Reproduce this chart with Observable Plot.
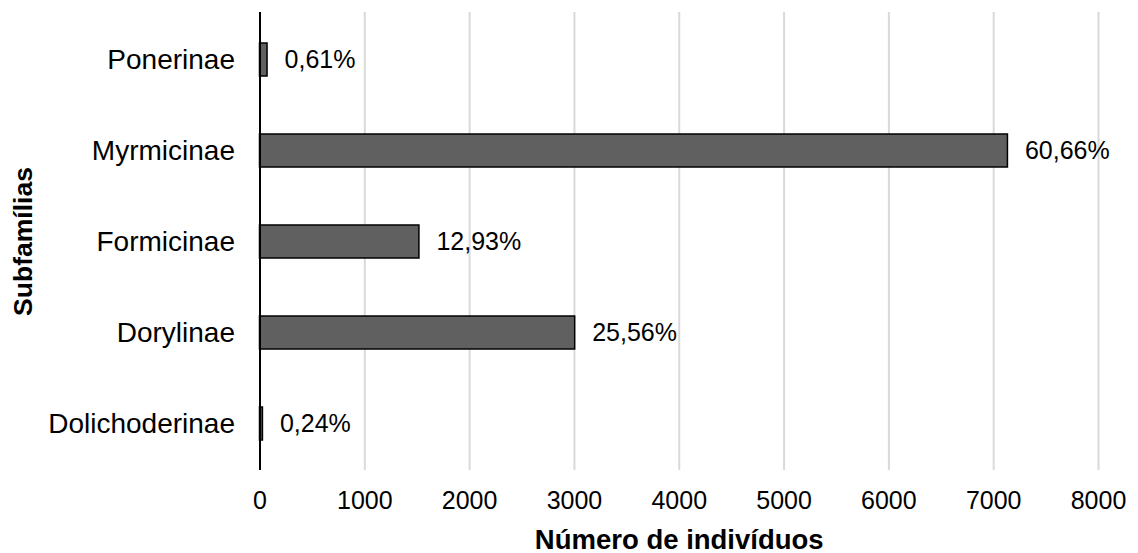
<!DOCTYPE html>
<html>
<head>
<meta charset="utf-8">
<script src="https://cdn.jsdelivr.net/npm/d3@7"></script>
<script src="https://cdn.jsdelivr.net/npm/@observablehq/plot@0.6"></script>
<style>
  html, body { margin: 0; padding: 0; background: #fff; }
</style>
</head>
<body>
<div id="chart"></div>
<script>
const subfamilies = ["Ponerinae", "Myrmicinae", "Formicinae", "Dorylinae", "Dolichoderinae"];
const counts = [72, 7136, 1521, 3007, 28];
const percentLabels = ["0,61%", "60,66%", "12,93%", "25,56%", "0,24%"];
const xTicks = [0, 1000, 2000, 3000, 4000, 5000, 6000, 7000, 8000];
const xTitle = "Número de indivíduos";
const yTitle = "Subfamílias";

const data = subfamilies.map((s, i) => ({s, n: counts[i], p: percentLabels[i]}));

const chart = Plot.plot({
  width: 1138,
  height: 553,
  marginLeft: 259.5,
  marginRight: 40,
  marginTop: 12,
  marginBottom: 83,
  x: {domain: [0, 8000]},
  y: {domain: subfamilies, paddingInner: 0.64, paddingOuter: 0.32},
  style: {fontFamily: "'Liberation Sans', Arial, Helvetica, sans-serif", background: "white", color: "#000"},
  marks: [
    Plot.gridX(xTicks.filter(d => d > 0), {stroke: "#d9d9d9", strokeOpacity: 1, strokeWidth: 2}),
    Plot.barX(data, {x: "n", y: "s", fill: "#606060", stroke: "#000", strokeWidth: 1.5}),
    Plot.ruleX([0], {stroke: "#000", strokeWidth: 2}),
    Plot.text(data, {x: "n", y: "s", text: "p", textAnchor: "start", dx: 17, fontSize: 25, fill: "#000"}),
    Plot.axisX(xTicks, {tickSize: 0, tickPadding: 21, fontSize: 25, label: null, fill: "#000", tickFormat: d3.format("d")}),
    Plot.axisY({tickSize: 0, tickPadding: 25, fontSize: 28, label: null, fill: "#000"}),
    Plot.text([xTitle], {frameAnchor: "bottom", textAnchor: "middle", dy: 78, fontWeight: "bold", fontSize: 27.5, fill: "#000"}),
    Plot.text([yTitle], {frameAnchor: "left", textAnchor: "middle", rotate: -90, dx: -236, fontWeight: "bold", fontSize: 26.5, fill: "#000"})
  ]
});
document.getElementById("chart").appendChild(chart);
</script>
</body>
</html>
